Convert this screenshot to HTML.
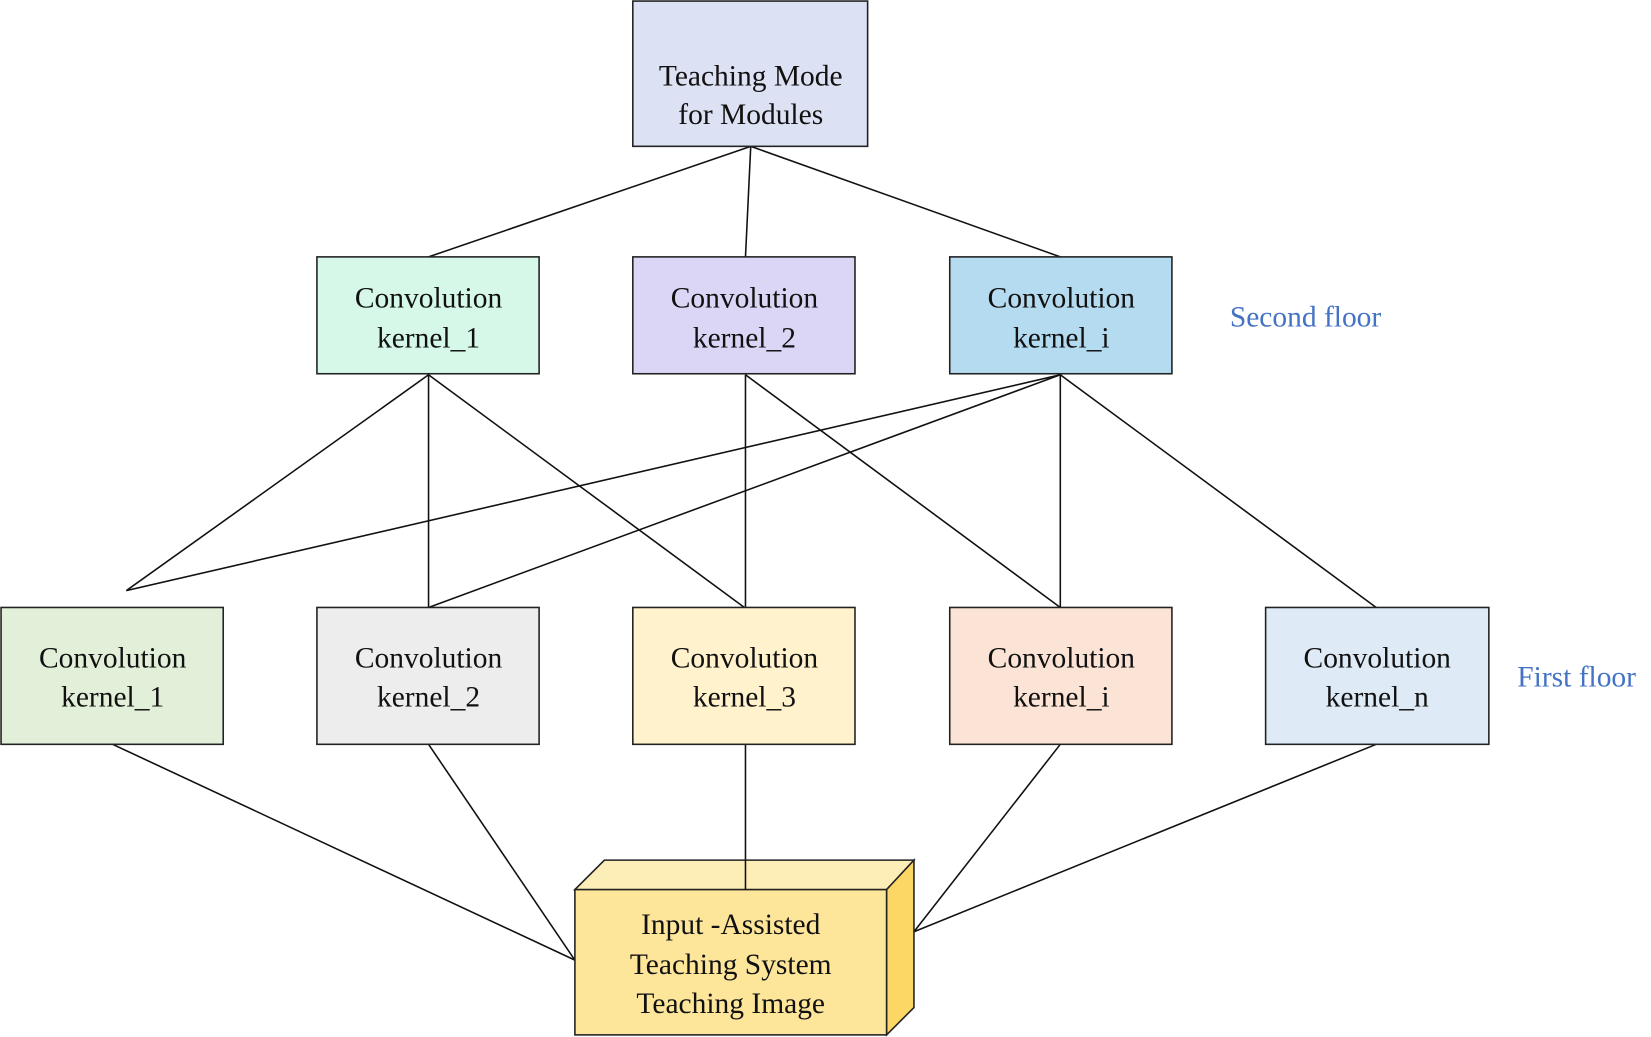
<!DOCTYPE html>
<html><head><meta charset="utf-8"><style>
html,body{margin:0;padding:0;background:#fff;}
svg{display:block;}
text{font-family:"Liberation Serif",serif;font-size:28px;fill:#111;text-anchor:middle;}
.lbl{fill:#4472c4;text-anchor:start;}
</style></head><body>
<svg width="1651" height="1037" viewBox="0 0 1568 985" preserveAspectRatio="none" xmlns="http://www.w3.org/2000/svg">
<g stroke="#111" stroke-width="1.5" fill="none">
<line x1="713" y1="139" x2="407" y2="244"/>
<line x1="713" y1="139" x2="708" y2="244"/>
<line x1="713" y1="139" x2="1007" y2="244"/>
<line x1="407" y1="356" x2="120" y2="561"/>
<line x1="407" y1="356" x2="407" y2="577"/>
<line x1="407" y1="356" x2="707" y2="577"/>
<line x1="708" y1="356" x2="708" y2="577"/>
<line x1="708" y1="356" x2="1007" y2="577"/>
<line x1="1007" y1="356" x2="120" y2="561"/>
<line x1="1007" y1="356" x2="407" y2="577"/>
<line x1="1007" y1="356" x2="1007" y2="577"/>
<line x1="1007" y1="356" x2="1307" y2="577"/>
<line x1="107" y1="707" x2="546" y2="912"/>
<line x1="407" y1="707" x2="546" y2="912"/>
<line x1="708" y1="707" x2="708" y2="845"/>
<line x1="1007" y1="707" x2="868" y2="885"/>
<line x1="1307" y1="707" x2="868" y2="885"/>
</g>
<g stroke="#222" stroke-width="1.5">
<rect x="601" y="1" width="223" height="138" fill="#dde1f4"/>
<rect x="301" y="244" width="211" height="111" fill="#d5f8e8"/>
<rect x="601" y="244" width="211" height="111" fill="#dcd6f6"/>
<rect x="902" y="244" width="211" height="111" fill="#b4dbf0"/>
<rect x="1" y="577" width="211" height="130" fill="#e2efd9"/>
<rect x="301" y="577" width="211" height="130" fill="#ededed"/>
<rect x="601" y="577" width="211" height="130" fill="#fff2cc"/>
<rect x="902" y="577" width="211" height="130" fill="#fbe4d5"/>
<rect x="1202" y="577" width="212" height="130" fill="#deebf7"/>
<polygon points="546,845 574,817 868,817 842,845" fill="#fdeeb8"/>
<polygon points="842,845 868,817 868,957 842,983" fill="#fcd766"/>
<rect x="546" y="845" width="296" height="138" fill="#fde69a"/>
</g>
<line x1="708" y1="817" x2="708" y2="845" stroke="#111" stroke-width="1.5"/>
<text x="713" y="81">Teaching Mode</text><text x="713" y="118">for Modules</text>
<text x="407" y="292">Convolution</text><text x="407" y="330">kernel_1</text>
<text x="707" y="292">Convolution</text><text x="707" y="330">kernel_2</text>
<text x="1008" y="292">Convolution</text><text x="1008" y="330">kernel_i</text>
<text x="107" y="634">Convolution</text><text x="107" y="671">kernel_1</text>
<text x="407" y="634">Convolution</text><text x="407" y="671">kernel_2</text>
<text x="707" y="634">Convolution</text><text x="707" y="671">kernel_3</text>
<text x="1008" y="634">Convolution</text><text x="1008" y="671">kernel_i</text>
<text x="1308" y="634">Convolution</text><text x="1308" y="671">kernel_n</text>
<text x="694" y="887">Input -Assisted</text>
<text x="694" y="925">Teaching System</text>
<text x="694" y="962">Teaching Image</text>
<text class="lbl" x="1168" y="310">Second floor</text>
<text class="lbl" x="1441" y="652">First floor</text>
</svg>
</body></html>
